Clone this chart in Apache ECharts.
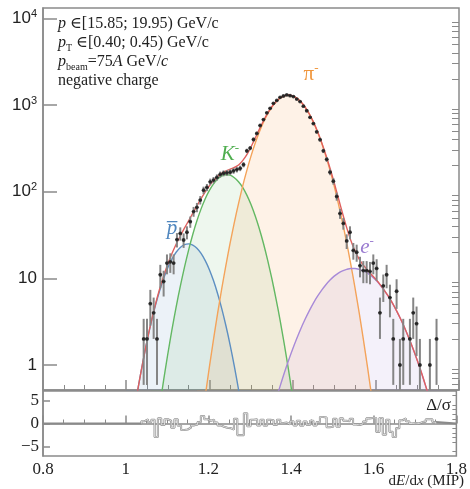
<!DOCTYPE html>
<html><head><meta charset="utf-8">
<script src="https://cdn.jsdelivr.net/npm/echarts@6/dist/echarts.min.js"></script>
<style>html,body{margin:0;padding:0;background:#fff}#c{width:470px;height:489px}</style>
</head><body><div id="c"></div>
<script>
const curveStep = 0.01;
const pbarStart = 1.00;
const pbarCurve = [0.0708,0.152,0.308,0.593,1.08,1.88,3.08,4.81,7.11,9.97,13.3,16.7,20.0,22.7,24.5,25.0,24.2,22.3,19.4,16.0,12.6,9.36,6.60,4.42,2.80,1.69,0.964,0.523,0.268,0.131,0.06];
const kaonStart = 1.06;
const kaonCurve = [0.063,0.145,0.318,0.67,1.34,2.56,4.66,8.10,13.4,21.2,32.1,46.1,63.3,82.9,103.5,123,140,152,157,155,145,130,112,91.1,70.9,52.6,37.3,25.2,16.2,9.97,5.85,3.27,1.74,0.89,0.43,0.2,0.088];
const pionStart = 1.17;
const pionCurve = [0.081,0.192,0.436,0.95,1.99,4.02,7.76,14.4,25.8,44.2,72.9,116,176,257,361,488,633,788,944,1086,1200,1274,1300,1274,1200,1086,944,788,633,488,361,257,176,116,72.9,44.2,25.8,14.4,7.76,4.02,1.99,0.95,0.436,0.192,0.081];
const elecStart = 1.35;
const elecCurve = [0.269,0.396,0.571,0.81,1.12,1.52,2.02,2.64,3.37,4.22,5.18,6.22,7.32,8.45,9.55,10.6,11.5,12.2,12.7,13.0,13.0,12.7,12.2,11.5,10.6,9.55,8.45,7.32,6.22,5.18,4.22,3.37,2.64,2.02,1.52,1.12,0.81,0.571,0.396,0.269,0.178,0.116];
const totalStart = 1.00;
const totalCurve = [0.0708,0.152,0.308,0.593,1.08,1.88,3.14,4.96,7.43,10.6,14.6,19.3,24.7,30.8,37.9,46.2,56.3,68.5,82.9,99.3,117,134,151,164,174,182,190,203,228,267,328,414,525,658,804,954,1092,1204,1277,1302,1276,1202,1089,947,792,638,494,368,265,186,127,84.4,56.4,38.5,27.4,20.8,16.7,14.2,12.5,11.0,9.74,8.53,7.32,6.22,5.18,4.22,3.37,2.64,2.02,1.52,1.12,0.81,0.571,0.396,0.269,0.178];

// ---- measured histogram (bins of width 0.008 starting at 1.042) ----
const binStart = 1.042;
const binWidth = 0.008;
const counts = [2.0,2.0,5.1,4.0,2.0,11,9.2,15,15.5,15,
 28,33,27.7,34,45,59,66,80,104,112,
 130,136,146,158,163,165,168,174,180,186,
 205,296,318,400,470,580,678,812,915,1045,
 1128,1225,1270,1305,1280,1252,1170,1095,968,858,
 720,610,490,398,296,236,168,132,88,56,
 43,27,34,21,20,14,12.3,12.3,12,15,
 13,4,8.2,11,6,2,7.1,1,2,null,
 2,4,3,1,null,null,1,null,2];
const countErr = [1.41,1.41,2.26,2.0,1.41,3.32,3.03,3.87,3.94,3.87,
 5.29,5.74,5.26,5.83,6.71,7.68,8.12,8.94,10.2,10.6,
 11.4,11.7,12.1,12.6,12.8,12.8,13.0,13.2,13.4,13.6,
 14.3,17.2,17.8,20.0,21.7,24.1,26.0,28.5,30.2,32.3,
 33.6,35.0,35.6,36.1,35.8,35.4,34.2,33.1,31.1,29.3,
 26.8,24.7,22.1,19.9,17.2,15.4,13.0,11.5,9.38,7.48,
 6.56,5.20,5.83,4.58,4.47,3.74,3.51,3.51,3.46,3.87,
 3.61,2.0,2.86,3.32,2.45,1.41,2.66,1.0,1.41,null,
 1.41,2.0,1.73,1.0,null,null,1.0,null,1.41];
const residuals = [0.5,0.9,0.3,0.8,-2.9,1.1,-0.3,0.9,0.6,-0.9,
 0.9,-0.5,-1.4,-1.3,-0.9,-0.4,-0.2,0.3,1.6,0.9,
 0.6,0.8,0.2,-0.4,-0.7,-0.9,-1.0,-1.3,1.0,-2.5,
 -2.5,2.2,-0.6,0.8,0.9,-0.4,0.8,-0.5,0.8,0.7,
 -0.3,0.8,0.1,0.2,-0.2,0.5,-0.4,0.6,-0.5,0.4,
 -0.3,0.6,-0.4,0.3,1.4,1.3,-0.8,-0.7,1.0,-0.7,
 1.1,0.6,0.5,1.0,-0.2,-0.3,-0.1,0.4,1.1,1.2,
 1.2,-1.8,1.2,-2.4,0.8,-1.8,-2.9,-1.0,0.7,1.1,
 0.5,0,0.1,0,0.3,0.4,0.9,0.9,0.3];

// ---- axes ticks ----
const xMin = 0.8, xMax = 1.8, xMajor = 0.2;
const yMajorTicks = [1, 10, 100, 1000, 10000];
const resMajorTicks = [-5, 0, 5];
const resMinorTicks = [-6,-4,-3,-2,-1,1,2,3,4,6];

// minor log ticks 2..9 in each decade
const yMinorTicks = [];
[0.1, 1, 10, 100, 1000].forEach(d => { for (let m = 2; m <= 9; m++) { const v = +(m*d).toPrecision(3); if (v > 0.52 && v < 13000) yMinorTicks.push(v); } });

const curvePts = (start, arr) => arr.map((v, i) => [+(start + i*curveStep).toFixed(3), v]);
const pts = [];
counts.forEach((v, k) => { if (v != null) pts.push([+(binStart + k*binWidth).toFixed(4), v, countErr[k]]); });
const resLine = [[xMin, 0], [binStart - binWidth/2, 0]];
residuals.forEach((r, k) => { const c = binStart + k*binWidth; resLine.push([c - binWidth/2, r], [c + binWidth/2, r]); });
const resEnd = binStart + (residuals.length - 1)*binWidth + binWidth/2;
const resInner = resLine.slice(1);
resInner.push([resEnd, 0]);
resLine.push([resEnd, 0], [xMax, 0]);

const AX = '#8a8a8a';
const SERIF = '"Liberation Serif","DejaVu Serif",serif';
const SANS = '"Liberation Sans",Arial,sans-serif';

const chart = echarts.init(document.getElementById('c'));

function comp(name, start, arr, color, fill) {
  return [{
    type: 'line', name: name, xAxisIndex: 0, yAxisIndex: 0, data: curvePts(start, arr),
    showSymbol: false, smooth: 0.3, clip: true, z: 2,
    lineStyle: { color: color, width: 1.4 },
    areaStyle: { color: fill, origin: 'start' }
  }];
}

const option = {
  animation: false,
  grid: [
    { left: 43, right: 11, top: 8, bottom: 99, show: true, borderColor: AX, borderWidth: 1.5, backgroundColor: 'transparent' },
    { left: 43, right: 11, top: 391, bottom: 33, show: true, borderColor: AX, borderWidth: 1.5, backgroundColor: 'transparent' }
  ],
  xAxis: [
    { type: 'value', gridIndex: 0, min: xMin, max: xMax, interval: xMajor,
      axisLine: { show: true, lineStyle: { color: AX, width: 1.5 } },
      axisTick: { inside: true, length: 10, lineStyle: { color: AX, width: 1.5 } },
      minorTick: { show: true, splitNumber: 4, length: 5, lineStyle: { color: AX, width: 1 } },
      axisLabel: { show: false }, splitLine: { show: false } },
    { type: 'value', gridIndex: 1, min: xMin, max: xMax, interval: xMajor,
      axisLine: { show: true, lineStyle: { color: AX, width: 1.5 } },
      axisTick: { inside: true, length: 8, lineStyle: { color: AX, width: 1.5 } },
      minorTick: { show: true, splitNumber: 4, length: 4, lineStyle: { color: AX, width: 1 } },
      axisLabel: { show: true, margin: 5, color: '#222', fontFamily: SERIF, fontSize: 17 },
      splitLine: { show: false } }
  ],
  yAxis: [
    { type: 'log', gridIndex: 0, min: 0.515, max: 13150, logBase: 10,
      axisLine: { show: true, lineStyle: { color: AX, width: 1.5 } },
      axisTick: { inside: true, length: 14, customValues: yMajorTicks, lineStyle: { color: AX, width: 1.5 } },
      axisLabel: { margin: 6, customValues: yMajorTicks, color: '#222', fontFamily: SANS, fontSize: 17,
        formatter: v => v < 5 ? '{b|1}' : v < 50 ? '{b|10}' : '{b|10}{s|' + Math.round(Math.log10(v)) + '}',
        rich: { b: { fontFamily: SANS, fontSize: 17, color: '#222', lineHeight: 20 },
                s: { fontFamily: SANS, fontSize: 11, color: '#222', verticalAlign: 'top', lineHeight: 11 } } },
      splitLine: { show: false } },
    { type: 'log', gridIndex: 0, min: 0.515, max: 13150, logBase: 10,
      axisLine: { show: false },
      axisTick: { inside: true, length: 7, customValues: yMinorTicks, lineStyle: { color: AX, width: 1 } },
      axisLabel: { show: false }, splitLine: { show: false } },
    { type: 'value', gridIndex: 1, min: -7, max: 7,
      axisLine: { show: true, lineStyle: { color: AX, width: 1.5 } },
      axisTick: { inside: true, length: 7, customValues: resMajorTicks, lineStyle: { color: AX, width: 1.5 } },
      axisLabel: { margin: 4, customValues: resMajorTicks, color: '#222', fontFamily: SERIF, fontSize: 17,
        formatter: v => v < 0 ? '\u2212' + (-v) : String(v) },
      splitLine: { show: false } },
    { type: 'value', gridIndex: 1, min: -7, max: 7,
      axisLine: { show: false },
      axisTick: { inside: true, length: 4, customValues: resMinorTicks, lineStyle: { color: AX, width: 1 } },
      axisLabel: { show: false }, splitLine: { show: false } }
  ],
  series: [
    ...comp('pbar', pbarStart, pbarCurve, '#5d8fc2', 'rgba(80,130,190,0.15)'),
    ...comp('K', kaonStart, kaonCurve, '#63b863', 'rgba(90,175,90,0.15)'),
    ...comp('pi', pionStart, pionCurve, '#f4a35a', 'rgba(245,155,75,0.19)'),
    ...comp('e', elecStart, elecCurve, '#a88ad8', 'rgba(150,120,210,0.15)'),
    { type: 'line', name: 'total', xAxisIndex: 0, yAxisIndex: 0, data: curvePts(totalStart, totalCurve),
      showSymbol: false, smooth: 0.3, clip: true, z: 3, lineStyle: { color: '#e0605e', width: 1.4 } },
    { type: 'custom', name: 'err', xAxisIndex: 0, yAxisIndex: 0, data: pts, clip: true, z: 4,
      renderItem: (params, api) => {
        const x = api.value(0), y = api.value(1), e = api.value(2);
        const lo = Math.max(y - e, 0.3), hi = y + e;
        const a = api.coord([x, lo]), b = api.coord([x, hi]);
        const l = api.coord([x - binWidth/2, y]), r = api.coord([x + binWidth/2, y]);
        return { type: 'group', children: [
          { type: 'line', shape: { x1: a[0], y1: a[1], x2: b[0], y2: b[1] }, style: { stroke: '#858585', lineWidth: 2 } },
          { type: 'line', shape: { x1: l[0], y1: l[1], x2: r[0], y2: r[1] }, style: { stroke: '#333', lineWidth: 1 } }
        ] };
      } },
    { type: 'scatter', name: 'data', xAxisIndex: 0, yAxisIndex: 0, data: pts.map(p => [p[0], p[1]]),
      symbolSize: 3.8, itemStyle: { color: '#1a1a1a' }, z: 5 },
    { type: 'line', xAxisIndex: 1, yAxisIndex: 2, data: resLine, showSymbol: false, z: 3,
      lineStyle: { color: '#8a8a8a', width: 2.1 } },
    { type: 'line', xAxisIndex: 1, yAxisIndex: 2, data: resInner, showSymbol: false, z: 4,
      lineStyle: { color: '#ffffff', width: 0.7 } }
  ],
  graphic: [
    { type: 'text', x: 58, y: 24, style: { text: '{i|p} \u2208[15.85; 19.95) GeV/c', fill: '#222', font: '16px ' + SERIF, verticalAlign: 'middle',
      rich: { i: { fontStyle: 'italic', fontFamily: SERIF, fontSize: 16 } } } },
    { type: 'text', x: 58, y: 43, style: { text: '{i|p}{sub|T} \u2208[0.40; 0.45) GeV/c', fill: '#222', font: '16px ' + SERIF, verticalAlign: 'middle',
      rich: { i: { fontStyle: 'italic', fontFamily: SERIF, fontSize: 16, lineHeight: 20 }, sub: { fontFamily: SERIF, fontSize: 10, verticalAlign: 'bottom', lineHeight: 10 } } } },
    { type: 'text', x: 58, y: 62, style: { text: '{i|p}{sub|beam}=75{i|A} GeV/{i|c}', fill: '#222', font: '16px ' + SERIF, verticalAlign: 'middle',
      rich: { i: { fontStyle: 'italic', fontFamily: SERIF, fontSize: 16, lineHeight: 20 }, sub: { fontFamily: SERIF, fontSize: 10, verticalAlign: 'bottom', lineHeight: 10 } } } },
    { type: 'text', x: 58, y: 81, style: { text: 'negative charge', fill: '#222', font: '16px ' + SERIF, verticalAlign: 'middle' } },
    { type: 'text', x: 172, y: 228, style: { text: 'p\u0305', fill: '#4f86be', font: 'italic 21px ' + SERIF, align: 'center', verticalAlign: 'middle' } },
    { type: 'text', x: 230, y: 154, style: { text: '{b|K}{s|-}', fill: '#4fae4f', align: 'center', verticalAlign: 'middle',
      rich: { b: { fontStyle: 'italic', fontFamily: SERIF, fontSize: 21, color: '#4fae4f', lineHeight: 24 }, s: { fontFamily: SERIF, fontSize: 13, color: '#4fae4f', verticalAlign: 'top', lineHeight: 13 } } } },
    { type: 'text', x: 311, y: 74, style: { text: '{b|\u03c0}{s|-}', fill: '#f0963c', align: 'center', verticalAlign: 'middle',
      rich: { b: { fontFamily: SERIF, fontSize: 21, color: '#f0963c', lineHeight: 24 }, s: { fontFamily: SERIF, fontSize: 13, color: '#f0963c', verticalAlign: 'top', lineHeight: 13 } } } },
    { type: 'text', x: 367, y: 247, style: { text: '{b|e}{s|-}', fill: '#9a7bd0', align: 'center', verticalAlign: 'middle',
      rich: { b: { fontStyle: 'italic', fontFamily: SERIF, fontSize: 21, color: '#9a7bd0', lineHeight: 24 }, s: { fontFamily: SERIF, fontSize: 13, color: '#9a7bd0', verticalAlign: 'top', lineHeight: 13 } } } },
    { type: 'text', x: 451, y: 406, style: { text: '\u0394/\u03c3', fill: '#222', font: '17px ' + SERIF, align: 'right', verticalAlign: 'middle' } },
    { type: 'text', x: 464, y: 481, style: { text: 'd{i|E}/d{i|x} (MIP)', fill: '#222', font: '15px ' + SERIF, align: 'right', verticalAlign: 'middle',
      rich: { i: { fontStyle: 'italic', fontFamily: SERIF, fontSize: 15 } } } }
  ]
};
chart.setOption(option);
</script>
</body></html>
